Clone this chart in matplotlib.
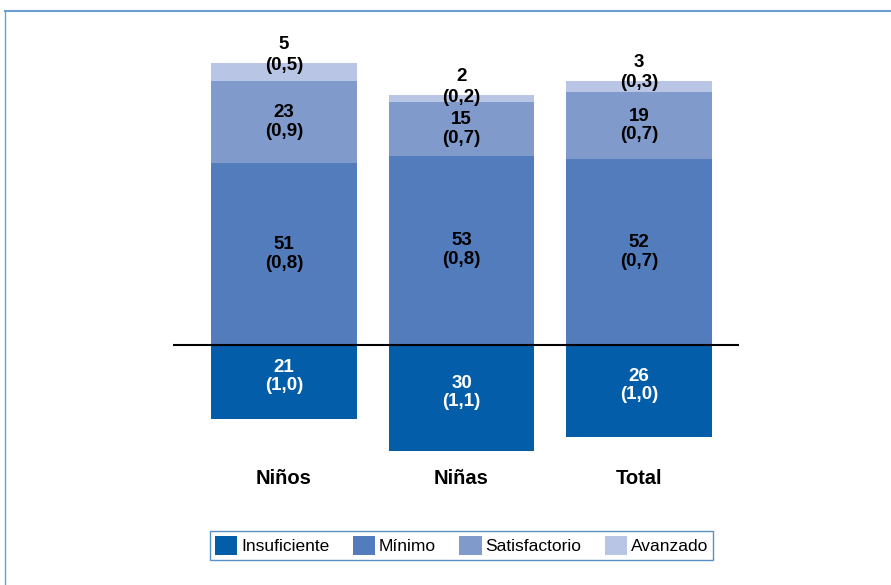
import matplotlib
matplotlib.use("Agg")
import matplotlib.pyplot as plt
from matplotlib.lines import Line2D
from matplotlib.patches import Patch

categories = ["Niños", "Niñas", "Total"]
levels = ["Insuficiente", "Mínimo", "Satisfactorio", "Avanzado"]
insuficiente = [21, 30, 26]
minimo = [51, 53, 52]
satisfactorio = [23, 15, 19]
avanzado = [5, 2, 3]
se_insuficiente = ["1,0", "1,1", "1,0"]
se_minimo = ["0,8", "0,8", "0,7"]
se_satisfactorio = ["0,9", "0,7", "0,7"]
se_avanzado = ["0,5", "0,2", "0,3"]

colors = ["#045DA8", "#537CBC", "#7F9ACB", "#B8C5E5"]

plt.rcParams["font.family"] = ["Liberation Sans", "DejaVu Sans"]

W, H = 891, 585
fig = plt.figure(figsize=(W / 100, H / 100), dpi=100)

left_px, right_px = 173, 739
top_px, bot_px = 20, 500
ax = fig.add_axes([left_px / W, 1 - bot_px / H, (right_px - left_px) / W, (bot_px - top_px) / H])
scale = 3.56
zero_px = 344.5
ax.set_ylim(-(bot_px - zero_px) / scale, (zero_px - top_px) / scale)
spacing = 177.5
ax.set_xlim(-(284 - left_px) / spacing, (right_px - 284) / spacing)
ax.axis("off")

x = list(range(len(categories)))
bw = 0.82
ax.bar(x, [-v for v in insuficiente], width=bw, color=colors[0], zorder=2)
ax.bar(x, minimo, width=bw, color=colors[1], zorder=2)
b2 = [m for m in minimo]
ax.bar(x, satisfactorio, bottom=b2, width=bw, color=colors[2], zorder=2)
b3 = [m + s for m, s in zip(minimo, satisfactorio)]
ax.bar(x, avanzado, bottom=b3, width=bw, color=colors[3], zorder=2)
ax.axhline(0, color="black", lw=1.5, zorder=3)

fs = 13.5
ls = 1.12
for i in x:
    ax.text(i, -insuficiente[i] / 2 + 1.5, f"{insuficiente[i]}\n({se_insuficiente[i]})", ha="center", va="center",
            color="white", fontsize=fs, fontweight="bold", linespacing=ls)
    ax.text(i, minimo[i] / 2, f"{minimo[i]}\n({se_minimo[i]})", ha="center", va="center",
            color="black", fontsize=fs, fontweight="bold", linespacing=ls)
    ax.text(i, b2[i] + satisfactorio[i] / 2, f"{satisfactorio[i]}\n({se_satisfactorio[i]})", ha="center", va="center",
            color="black", fontsize=fs, fontweight="bold", linespacing=ls)
    top = b3[i] + avanzado[i]
    ax.text(i, top + 2.3, f"{avanzado[i]}\n({se_avanzado[i]})", ha="center", va="center",
            color="black", fontsize=fs, fontweight="bold", linespacing=1.25)
    ax.text(i, -(478 - zero_px) / scale, categories[i], ha="center", va="center",
            color="black", fontsize=14.5, fontweight="bold")

handles = [Patch(facecolor=c, edgecolor="none") for c in colors]
leg = fig.legend(handles, levels, loc="center", bbox_to_anchor=(461.5 / W, 1 - 545.5 / H), ncol=4,
                 frameon=True, fancybox=False, edgecolor="#2E75B6", fontsize=12.5,
                 handlelength=1.3, handleheight=1.3, handletextpad=0.2, columnspacing=1.35,
                 borderpad=0.3, borderaxespad=0)
leg.get_frame().set_linewidth(1.0)

fig.add_artist(Line2D([5 / W, 1], [1 - 11 / H, 1 - 11 / H], transform=fig.transFigure, color="#6A9FD4", lw=1.5))
fig.add_artist(Line2D([5 / W, 5 / W], [0, 1 - 11 / H], transform=fig.transFigure, color="#6A9FD4", lw=1.0))

fig.savefig("out.png", dpi=100)
